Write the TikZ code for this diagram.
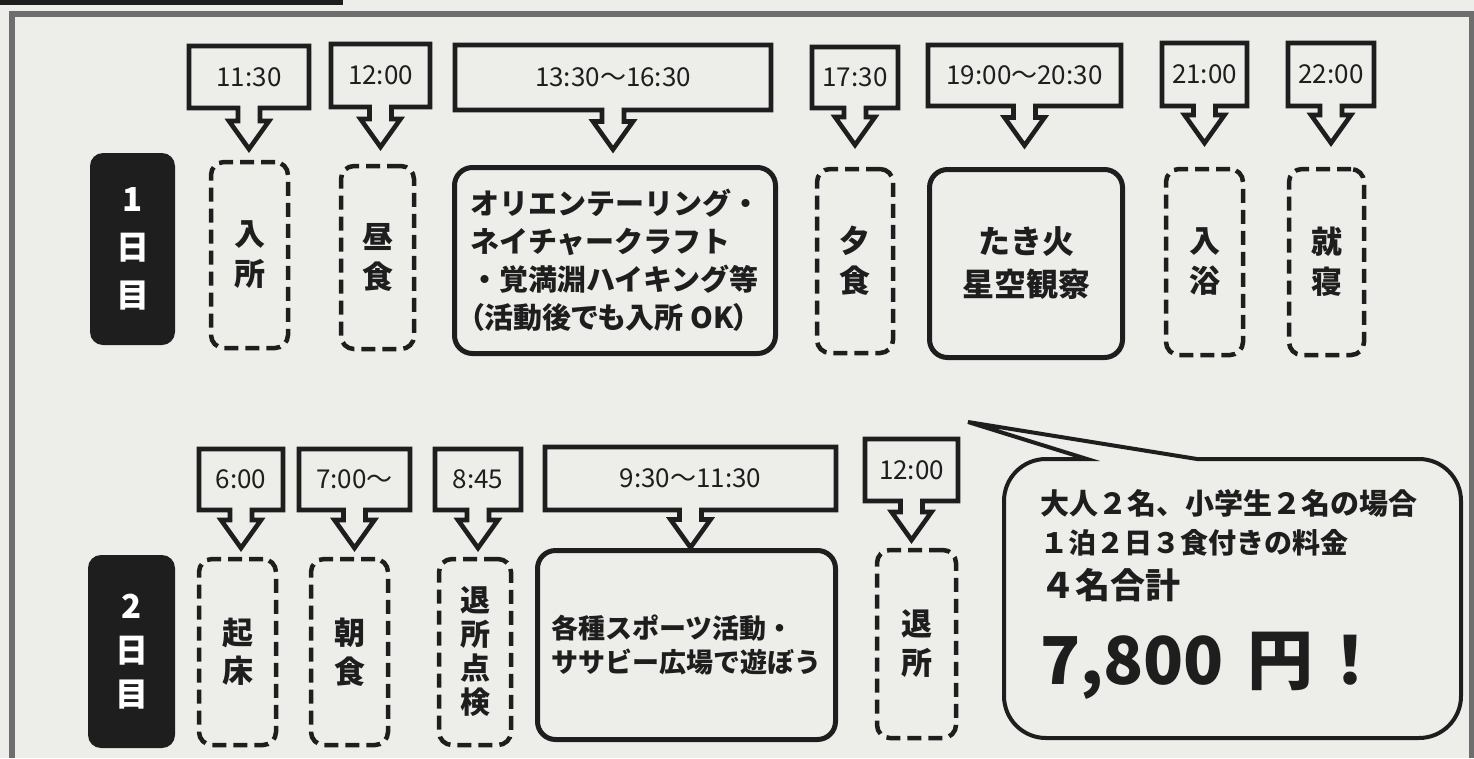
\documentclass[tikz,border=0pt]{standalone}
\usepackage{fontspec}
\setmainfont{Noto Sans CJK JP}
\newfontfamily\paltfont{Noto Sans CJK JP}[RawFeature=+palt]
\definecolor{paper}{HTML}{EDEDEA}
\definecolor{ink}{HTML}{1E1E1E}
\definecolor{framegray}{HTML}{6E6E6E}
\newcommand\fsz[2]{\fontsize{#1}{#2}\selectfont}
\newcommand\timearrow[3]{%
  \path (#1.south |- #2.north) ++(0pt,#3pt) coordinate (#1tip);
  \draw[tcallout] (#1.south west) -- (#1.north west) -- (#1.north east) -- (#1.south east)
    -- ([xshift=11pt]#1.south) -- ([xshift=11pt,yshift=28pt]#1tip)
    -- ([xshift=20pt,yshift=28pt]#1tip) -- (#1tip)
    -- ([xshift=-20pt,yshift=28pt]#1tip) -- ([xshift=-11pt,yshift=28pt]#1tip)
    -- ([xshift=-11pt]#1.south) -- cycle;}
\begin{document}
\begin{tikzpicture}[x=1pt,y=-1pt,
  tlabel/.style={inner sep=0pt,outer sep=0pt,text=ink,font=\fsz{26}{26}},
  tcallout/.style={draw=ink,line width=4.6pt,line join=miter},
  dbox/.style={draw=ink,line width=4.5pt,dash pattern=on 14pt off 7pt,rounded corners=13pt,inner sep=0pt,outer sep=0pt,align=center,text=ink,font=\bfseries\fsz{31}{40}},
  sbox/.style={draw=ink,line width=5pt,rounded corners=18pt,inner sep=0pt,outer sep=0pt,text=ink},
  daybox/.style={fill=ink,rounded corners=13pt,inner sep=0pt,outer sep=0pt,align=center,text=white},
  bubble/.style={draw=ink,line width=4pt,line join=miter},
  price/.style={inner sep=0pt,outer sep=0pt,anchor=base west,text=ink}]
\useasboundingbox (0,0) rectangle (1474,758);
\fill[paper] (0,0) rectangle (1474,758);
\fill[ink] (0,0) rectangle (343,5);
\draw[framegray,line width=6pt] (11.5,758) -- (11.5,13.5) -- (1471.5,13.5) -- (1471.5,758);

% day labels
\node[daybox,minimum width=85pt,minimum height=192pt,font=\bfseries\fsz{33}{48}] (day1) at (132.5,249) {1\\日\\目};
\node[daybox,minimum width=87pt,minimum height=193pt,font=\bfseries\fsz{33}{44}] (day2) at (131.5,651.5) {2\\日\\目};

% day 1 activities
\node[dbox,minimum width=77pt,minimum height=186pt] (a1) at (249.5,255) {入\\所};
\node[dbox,minimum width=73pt,minimum height=183pt] (a2) at (377.5,257.5) {昼\\食};
\node[sbox,minimum width=321pt,minimum height=186pt,align=left,font=\bfseries\fsz{29}{38}] (a3) at (615,260.5)
  {オリエンテーリング・\\ネイチャークラフト\\・覚満淵ハイキング等\\{\paltfont\bfseries （活動後でも入所 OK）}};
\node[dbox,minimum width=76pt,minimum height=184pt] (a4) at (855,261) {夕\\食};
\node[sbox,minimum width=193pt,minimum height=188pt,align=center,font=\bfseries\fsz{32}{43}] (a5) at (1026,263.5) {たき火\\星空観察};
\node[dbox,minimum width=77pt,minimum height=186pt] (a6) at (1204.5,262) {入\\浴};
\node[dbox,minimum width=75pt,minimum height=186pt] (a7) at (1326.5,262) {就\\寝};

% day 2 activities
\node[dbox,minimum width=77pt,minimum height=186pt,font=\bfseries\fsz{31}{38}] (b1) at (237.5,652) {起\\床};
\node[dbox,minimum width=77pt,minimum height=186pt,font=\bfseries\fsz{31}{39}] (b2) at (349.5,652) {朝\\食};
\node[dbox,minimum width=72pt,minimum height=186pt,font=\bfseries\fsz{30}{34}] (b3) at (475,652) {退\\所\\点\\検};
\node[sbox,minimum width=298pt,minimum height=189pt,align=left,font=\bfseries\fsz{27}{34}] (b4) at (686.5,645)
  {各種スポーツ活動・\\ササビー広場で遊ぼう};
\node[dbox,minimum width=79pt,minimum height=188pt,font=\bfseries\fsz{31}{39}] (b5) at (916.5,644) {退\\所};

% time labels, day 1
\node[tlabel,minimum width=120pt,minimum height=62pt] (t1) at (249,77) {11:30};
\node[tlabel,minimum width=99pt,minimum height=63pt] (t2) at (380.5,75.5) {12:00};
\node[tlabel,minimum width=316pt,minimum height=65pt] (t3) at (613,77.5) {13:30～16:30};
\node[tlabel,minimum width=86pt,minimum height=61pt] (t4) at (855,77.5) {17:30};
\node[tlabel,minimum width=193pt,minimum height=61pt] (t5) at (1024.5,75.5) {19:00～20:30};
\node[tlabel,minimum width=85pt,minimum height=63pt] (t6) at (1204.5,74.5) {21:00};
\node[tlabel,minimum width=86pt,minimum height=63pt] (t7) at (1331,74.5) {22:00};
% time labels, day 2
\node[tlabel,minimum width=84pt,minimum height=61pt] (u1) at (241,479.5) {6:00};
\node[tlabel,minimum width=111pt,minimum height=61pt] (u2) at (354.5,479.5) {7:00～};
\node[tlabel,minimum width=86pt,minimum height=61pt] (u3) at (478,479.5) {8:45};
\node[tlabel,minimum width=291pt,minimum height=63pt] (u4) at (690.5,478.5) {9:30～11:30};
\node[tlabel,minimum width=93pt,minimum height=62pt] (u5) at (911.5,470) {12:00};

% callout arrows
\timearrow{t1}{a1}{13}
\timearrow{t2}{a2}{19}
\timearrow{t3}{a3}{18}
\timearrow{t4}{a4}{24}
\timearrow{t5}{a5}{24}
\timearrow{t6}{a6}{26}
\timearrow{t7}{a7}{26}
\timearrow{u1}{b1}{11}
\timearrow{u2}{b2}{11}
\timearrow{u3}{b3}{11}
\timearrow{u4}{b4}{3}
\timearrow{u5}{b5}{10}

% speech bubble
\coordinate (tailtip) at (968,422);
\draw[bubble] (1087,459) -- (tailtip) -- (1197,459) -- (1419,459)
  arc[start angle=90,end angle=0,radius=42pt] -- (1461,696)
  arc[start angle=0,end angle=-90,radius=42pt] -- (1046,738)
  arc[start angle=-90,end angle=-180,radius=42pt] -- (1004,501)
  arc[start angle=180,end angle=90,radius=42pt] -- cycle;
\node[price,font=\bfseries\fsz{29}{29}] (p1) at (1040,514) {大人２名、小学生２名の場合};
\node[price,font=\bfseries\fsz{28}{28}] (p2) at (1040,553) {１泊２日３食付きの料金};
\node[price,font=\bfseries\fsz{35}{35}] (p3) at (1040,598) {４名合計};
\node[price,font=\bfseries\fsz{66}{66}] (p4) at (1040,684) {7,800\hspace{24pt}円\hspace{4pt}！};
\end{tikzpicture}
\end{document}
